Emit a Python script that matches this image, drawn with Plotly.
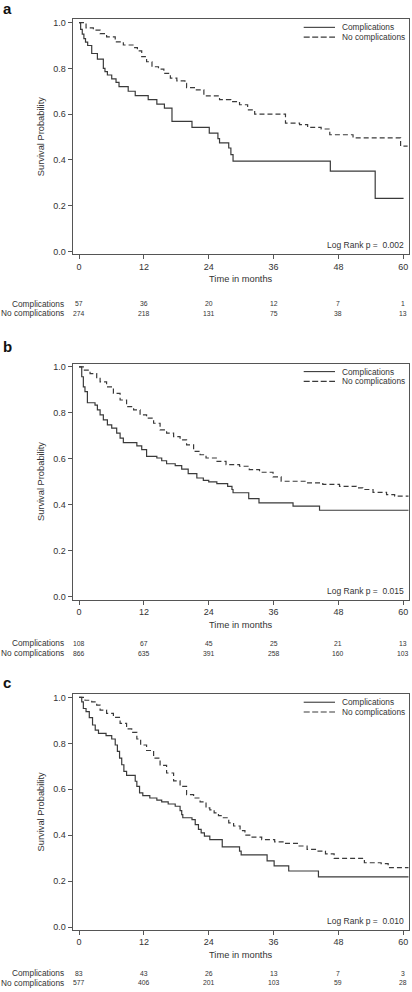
import plotly.graph_objects as go

W, H = 412, 992
FONT = "Liberation Sans, Arial, sans-serif"
TXT = "#333333"
AX = "#555555"

# ---------------- data ----------------
x_ticks = [0, 12, 24, 36, 48, 60]
y_ticks = [0.0, 0.2, 0.4, 0.6, 0.8, 1.0]
group_labels = ["Complications", "No complications"]

# Panel a
a_comp_t = [0, 0.3, 0.6, 0.9, 1.2, 1.6, 2.35, 3.4, 4.5, 4.8, 5.25, 6.05, 6.85, 7.4, 9.1, 10.4,
            12.8, 14.4, 15.8, 17.2, 20.9, 24.1, 25.7, 26.0, 27.7, 28.1, 28.5, 46.5, 54.8, 60.05]
a_comp_s = [1.0, 0.97, 0.95, 0.93, 0.915, 0.90, 0.865, 0.84, 0.80, 0.786, 0.771, 0.754, 0.739, 0.72,
            0.70, 0.681, 0.663, 0.644, 0.626, 0.568, 0.542, 0.517, 0.493, 0.474, 0.452, 0.423, 0.395,
            0.351, 0.232, 0.232]
a_nocomp_t = [0, 1.3, 2.65, 3.9, 5.1, 6.7, 8.2, 10.1, 10.8, 11.6, 12.5, 13.5, 14.7, 15.7, 16.9, 18.1,
              19.6, 19.9, 21.5, 23.1, 26.0, 28.1, 29.7, 31.2, 32.5, 38.2, 40.8, 42.3, 44.8, 46.4,
              50.7, 59.5, 60.8]
a_nocomp_s = [1.0, 0.977, 0.967, 0.952, 0.938, 0.916, 0.902, 0.891, 0.876, 0.851, 0.829, 0.807, 0.797,
              0.778, 0.757, 0.745, 0.735, 0.716, 0.706, 0.68, 0.663, 0.655, 0.641, 0.619, 0.60, 0.561,
              0.554, 0.542, 0.535, 0.51, 0.496, 0.46, 0.46]
a_risk_comp = [57, 36, 20, 12, 7, 1]
a_risk_nocomp = [274, 218, 131, 75, 38, 13]
a_logrank = "0.002"

# Panel b
b_comp_t = [0, 0.5, 0.8, 1.1, 1.55, 2.96, 3.4, 3.9, 4.5, 5.25, 6.05, 6.97, 7.6, 8.2, 10.7, 11.6, 12.5,
            14.4, 15.3, 16.2, 17.8, 19.0, 20.2, 21.8, 23.0, 24.0, 25.5, 27.5, 28.3, 28.5, 31.4, 33.3,
            39.6, 44.5, 61.0]
b_comp_s = [1.0, 0.957, 0.913, 0.892, 0.844, 0.834, 0.813, 0.791, 0.77, 0.748, 0.734, 0.712, 0.69,
            0.671, 0.657, 0.64, 0.611, 0.604, 0.592, 0.579, 0.571, 0.556, 0.536, 0.517, 0.507, 0.50,
            0.493, 0.481, 0.467, 0.453, 0.427, 0.409, 0.395, 0.377, 0.377]
b_nocomp_t = [0, 0.8, 2.04, 3.27, 3.9, 5.1, 6.36, 7.6, 8.8, 10.1, 11.3, 12.5, 13.8, 15.0, 16.2, 17.5,
              18.7, 19.9, 21.2, 22.4, 23.5, 25.4, 27.2, 29.7, 31.5, 33.4, 35.9, 37.4, 42.0, 45.1,
              48.2, 51.3, 52.5, 54.4, 56.9, 58.4, 61.0]
b_nocomp_s = [1.0, 0.986, 0.971, 0.95, 0.935, 0.913, 0.885, 0.856, 0.827, 0.813, 0.791, 0.777, 0.755,
              0.726, 0.712, 0.697, 0.683, 0.661, 0.633, 0.618, 0.604, 0.589, 0.575, 0.568, 0.553,
              0.542, 0.522, 0.503, 0.496, 0.489, 0.481, 0.474, 0.467, 0.455, 0.445, 0.438, 0.438]
b_risk_comp = [108, 67, 45, 25, 21, 13]
b_risk_nocomp = [866, 635, 391, 258, 160, 103]
b_logrank = "0.015"

# Panel c
c_comp_t = [0, 0.5, 0.8, 1.3, 1.9, 2.5, 3.0, 3.6, 5.0, 6.05, 6.7, 7.1, 7.5, 7.9, 8.3, 8.8, 10.4, 10.7,
            11.2, 11.8, 13.1, 14.4, 15.3, 16.5, 17.8, 18.7, 19.0, 19.2, 20.9, 21.5, 22.1, 22.6, 23.2,
            24.2, 26.5, 29.7, 30.0, 34.8, 36.1, 38.8, 44.3, 61.0]
c_comp_s = [1.0, 0.981, 0.952, 0.938, 0.912, 0.88, 0.858, 0.844, 0.834, 0.819, 0.793, 0.765, 0.736,
            0.707, 0.678, 0.661, 0.635, 0.613, 0.584, 0.572, 0.562, 0.553, 0.545, 0.536, 0.526, 0.507,
            0.49, 0.476, 0.468, 0.446, 0.425, 0.41, 0.396, 0.381, 0.349, 0.331, 0.314, 0.288, 0.266,
            0.244, 0.218, 0.218]
c_nocomp_t = [0, 1.1, 2.35, 3.27, 3.9, 5.1, 6.36, 7.6, 8.8, 9.75, 10.7, 11.4, 12.5, 13.8, 15.0, 16.2,
              17.5, 18.7, 19.9, 21.2, 22.4, 23.5, 24.2, 25.0, 25.8, 26.3, 27.7, 28.6, 29.8, 30.7,
              31.6, 33.8, 36.2, 38.1, 40.4, 42.2, 44.1, 45.6, 47.2, 52.8, 55.9, 57.2, 61.0]
c_nocomp_s = [1.0, 0.988, 0.981, 0.967, 0.945, 0.931, 0.913, 0.887, 0.863, 0.848, 0.819, 0.793, 0.769,
              0.736, 0.704, 0.671, 0.637, 0.613, 0.577, 0.562, 0.545, 0.519, 0.51, 0.497, 0.485, 0.476,
              0.454, 0.44, 0.42, 0.40, 0.392, 0.381, 0.371, 0.364, 0.353, 0.338, 0.331, 0.319, 0.299,
              0.28, 0.276, 0.259, 0.259]
c_risk_comp = [83, 43, 26, 13, 7, 3]
c_risk_nocomp = [577, 406, 201, 103, 59, 28]
c_logrank = "0.010"

panels = [
    dict(letter="a", ct=a_comp_t, cs=a_comp_s, nt=a_nocomp_t, ns=a_nocomp_s,
         rc=a_risk_comp, rn=a_risk_nocomp, lr=a_logrank),
    dict(letter="b", ct=b_comp_t, cs=b_comp_s, nt=b_nocomp_t, ns=b_nocomp_s,
         rc=b_risk_comp, rn=b_risk_nocomp, lr=b_logrank),
    dict(letter="c", ct=c_comp_t, cs=c_comp_s, nt=c_nocomp_t, ns=c_nocomp_s,
         rc=c_risk_comp, rn=c_risk_nocomp, lr=c_logrank),
]

# ---------------- layout geometry (pixels) ----------------
X_LEFT_PX, X_RIGHT_PX = 72.7, 408.7
X_RANGE = [-1.17, 61.0]
Y_RANGE = [-0.011, 1.014]
geom = [
    dict(p1=20.7, p0=250.7, letter_y=6.5, risk_dy=(49.8, 59.8)),
    dict(p1=366.7, p0=598.0, letter_y=346.5, risk_dy=(44.2, 53.8)),
    dict(p1=699.0, p0=929.7, letter_y=683.5, risk_dy=(43.8, 53.5)),
]


def py(p):
    return 1 - p / H


def px(p):
    return p / W


fig = go.Figure()
annotations = []
shapes = []
lay = {}

for i, (pn, g) in enumerate(zip(panels, geom)):
    k = "" if i == 0 else str(i + 1)
    xa, ya = "x" + k, "y" + k
    s = g["p0"] - g["p1"]
    top = g["p1"] - (Y_RANGE[1] - 1.0) * s
    bottom = g["p0"] + (0 - Y_RANGE[0]) * s

    fig.add_trace(go.Scatter(x=pn["ct"], y=pn["cs"], mode="lines", line_shape="hv",
                             line=dict(color="#3a3a3a", width=1.2), xaxis=xa, yaxis=ya,
                             showlegend=False, hoverinfo="skip"))
    fig.add_trace(go.Scatter(x=pn["nt"], y=pn["ns"], mode="lines", line_shape="hv",
                             line=dict(color="#3a3a3a", width=1.2, dash="5px,3px"), xaxis=xa,
                             yaxis=ya, showlegend=False, hoverinfo="skip"))

    lay["xaxis" + k] = dict(domain=[px(X_LEFT_PX), px(X_RIGHT_PX)], range=X_RANGE,
                            anchor=ya, tickvals=x_ticks, ticks="outside", ticklen=4,
                            tickcolor=AX, tickwidth=1, showline=True, mirror=True,
                            linecolor=AX, linewidth=1.3, showgrid=False, zeroline=False,
                            tickfont=dict(size=9, color=TXT, family=FONT), fixedrange=True)
    lay["yaxis" + k] = dict(domain=[py(bottom), py(top)], range=Y_RANGE, anchor=xa,
                            tickvals=y_ticks, tickformat=".1f", ticks="outside", ticklen=4,
                            tickcolor=AX, tickwidth=1, showline=True, mirror=True,
                            linecolor=AX, linewidth=1.3, showgrid=False, zeroline=False,
                            tickfont=dict(size=9, color=TXT, family=FONT), fixedrange=True)

    # panel letter
    annotations.append(dict(text="<b>%s</b>" % pn["letter"], x=px(0.5), y=py(g["letter_y"]),
                            xref="paper", yref="paper", xanchor="left", yanchor="middle",
                            showarrow=False, font=dict(size=15, color="#111", family=FONT)))
    # axis titles
    annotations.append(dict(text="Time in months", x=px((X_LEFT_PX + X_RIGHT_PX) / 2),
                            y=py(bottom + 25.5), xref="paper", yref="paper", xanchor="center",
                            yanchor="middle", showarrow=False,
                            font=dict(size=9.3, color=TXT, family=FONT)))
    annotations.append(dict(text="Survival Probability", x=px(40.5), y=py((top + bottom) / 2),
                            xref="paper", yref="paper", xanchor="center", yanchor="middle",
                            textangle=-90, showarrow=False,
                            font=dict(size=9.3, color=TXT, family=FONT)))
    # log rank
    annotations.append(dict(text="Log Rank p =\u00a0 " + pn["lr"], x=px(405.7), y=py(bottom - 8.5),
                            xref="paper", yref="paper", xanchor="right", yanchor="middle",
                            showarrow=False, font=dict(size=8.5, color=TXT, family=FONT)))
    # legend
    for j, lbl in enumerate(group_labels):
        ly = top + 8.0 + j * 9.8
        shapes.append(dict(type="line", xref="paper", yref="paper", x0=px(303.7), x1=px(335),
                           y0=py(ly), y1=py(ly),
                           line=dict(color="#3a3a3a", width=1.1,
                                     dash=None if j == 0 else "6px,2.5px")))
        annotations.append(dict(text=lbl, x=px(340.3), y=py(ly), xref="paper", yref="paper",
                                xanchor="left", yanchor="middle", showarrow=False,
                                font=dict(size=8.3, color=TXT, family=FONT)))
    # number at risk
    for j, (lbl, vals) in enumerate(zip(group_labels, [pn["rc"], pn["rn"]])):
        ry = bottom + g["risk_dy"][j]
        annotations.append(dict(text=lbl, x=px(65.7), y=py(ry), xref="paper", yref="paper",
                                xanchor="right", yanchor="middle", showarrow=False,
                                font=dict(size=8.3, color=TXT, family=FONT)))
        for t, v in zip(x_ticks, vals):
            annotations.append(dict(text=str(v), x=t, y=py(ry), xref=xa, yref="paper",
                                    xanchor="center", yanchor="middle", showarrow=False,
                                    font=dict(size=6.8, color=TXT, family=FONT)))

fig.update_layout(width=W, height=H, margin=dict(l=0, r=0, t=0, b=0),
                  paper_bgcolor="white", plot_bgcolor="white", showlegend=False,
                  font=dict(family=FONT, color=TXT), annotations=annotations, shapes=shapes,
                  **lay)

fig.write_html("out.html", config={"displayModeBar": False},
               post_script="document.body.style.margin='0px';document.body.style.padding='0px';"
                           "document.documentElement.style.overflow='hidden';")
